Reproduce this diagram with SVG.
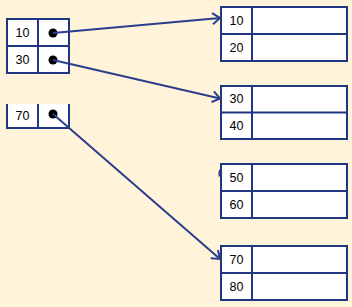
<svg xmlns="http://www.w3.org/2000/svg" width="352" height="307" viewBox="0 0 352 307">
<style>
.bg{fill:#FFF4DA}
.cell{fill:#FFFFFF;stroke:#1F3783;stroke-width:2}
.div{stroke:#1F3783;stroke-width:2;fill:none}
.t{font-family:"Liberation Sans",Arial,sans-serif;font-size:12.5px;fill:#000;text-anchor:middle;dominant-baseline:central}
.dot{fill:#000}
.edge{stroke:#2A3E8A;stroke-width:2;fill:none}
</style>
<defs>
<marker id="arr" markerUnits="userSpaceOnUse" markerWidth="14" markerHeight="14" refX="11" refY="7" orient="auto">
<path d="M3.5,1.5 L11,7 L3.5,12.5" fill="none" stroke="#2A3E8A" stroke-width="2"/>
</marker>
</defs>
<rect class="bg" x="0" y="0" width="352" height="307"/>

<g id="index1">
<rect class="cell" x="7" y="19" width="62" height="54"/>
<line class="div" x1="7" y1="46" x2="69" y2="46"/>
<line class="div" x1="38" y1="19" x2="38" y2="73"/>
<text class="t" x="22.5" y="33">10</text>
<text class="t" x="22.5" y="60">30</text>
<circle class="dot" cx="53" cy="33" r="4.5"/>
<circle class="dot" cx="53" cy="60" r="4.5"/>
</g>

<g id="index2">
<rect x="7" y="104" width="62" height="24" fill="#FFFFFF"/>
<path class="div" d="M7,104 V128 H69 V104 M38,104 V128"/>
<text class="t" x="22.5" y="116">70</text>
<circle class="dot" cx="53" cy="114" r="4.5"/>
</g>

<g id="block1">
<rect class="cell" x="221" y="7" width="126" height="54"/>
<line class="div" x1="221" y1="34" x2="347" y2="34"/>
<line class="div" x1="252" y1="7" x2="252" y2="61"/>
<text class="t" x="236.5" y="20.5">10</text>
<text class="t" x="236.5" y="47.5">20</text>
</g>

<g id="block2">
<rect class="cell" x="221" y="86" width="126" height="53"/>
<line class="div" x1="221" y1="112.5" x2="347" y2="112.5"/>
<line class="div" x1="252" y1="86" x2="252" y2="139"/>
<text class="t" x="236.5" y="99">30</text>
<text class="t" x="236.5" y="126">40</text>
</g>

<g id="block3">
<rect class="cell" x="221" y="164" width="126" height="54"/>
<line class="div" x1="221" y1="191" x2="347" y2="191"/>
<line class="div" x1="252" y1="164" x2="252" y2="218"/>
<text class="t" x="236.5" y="177.5">50</text>
<text class="t" x="236.5" y="204.5">60</text>
<path d="M220,169.5 Q218.5,172.5 219.5,176.5" fill="none" stroke="#2A3E8A" stroke-width="1.5"/>
</g>

<g id="block4">
<rect class="cell" x="221" y="246" width="126" height="54"/>
<line class="div" x1="221" y1="273" x2="347" y2="273"/>
<line class="div" x1="252" y1="246" x2="252" y2="300"/>
<text class="t" x="236.5" y="259.5">70</text>
<text class="t" x="236.5" y="286.5">80</text>
</g>

<g id="connectors">
<line class="edge" x1="53" y1="33" x2="220" y2="18" marker-end="url(#arr)"/>
<line class="edge" x1="53" y1="60" x2="220" y2="98.5" marker-end="url(#arr)"/>
<line class="edge" x1="53" y1="114" x2="220" y2="259" marker-end="url(#arr)"/>
</g>
</svg>
